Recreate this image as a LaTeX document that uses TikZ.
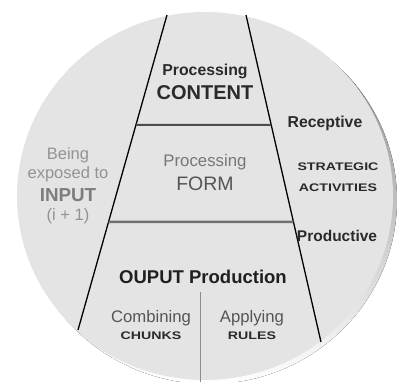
\documentclass[tikz,border=0pt]{standalone}
\usepackage{fontspec}
\usepackage{graphicx}
\setmainfont{Liberation Sans}
\usetikzlibrary{calc}
\definecolor{disc}{HTML}{E4E4E4}
\definecolor{shade}{HTML}{4A4A4A}
\definecolor{inkdark}{HTML}{2A2A2A}
\definecolor{inkmid}{HTML}{555555}
\definecolor{inklight}{HTML}{939393}
\definecolor{bandone}{HTML}{4D4D4D}
\definecolor{bandtwo}{HTML}{707070}
\definecolor{divider}{HTML}{8C8C8C}
\tikzset{
  lbl/.style={inner sep=0pt, align=center, text=inkdark, font=\bfseries},
  edgeline/.style={black, line width=1.3pt},
  bandline/.style={line width=2pt},
}
\newcommand{\wide}[1]{\scalebox{1.29}[1]{#1}}
\begin{document}
\begin{tikzpicture}[x=1pt,y=-1pt]
\useasboundingbox (0,0) rectangle (400,382);
\clip (0,0) rectangle (400,382);
% disc with shadow
\fill[shade] (209,200) ellipse [x radius=188pt, y radius=184pt];
\fill[disc] (205,196) ellipse [x radius=188pt, y radius=184pt];
% trapezoid edges
\coordinate (lt) at (167,15);
\coordinate (lb) at (78,330);
\coordinate (rt) at (246,15);
\coordinate (rb) at (321,342);
\draw[edgeline] (lt) -- (lb);
\draw[edgeline] (rt) -- (rb);
% horizontal bands
\coordinate (l1) at ($(lt)!0.349!(lb)$);
\coordinate (r1) at ($(rt)!0.336!(rb)$);
\coordinate (l2) at ($(lt)!0.657!(lb)$);
\coordinate (r2) at ($(rt)!0.633!(rb)$);
\draw[bandline, draw=bandone] (l1) -- (r1);
\draw[bandline, line width=2.5pt, draw=bandtwo] (l2) -- (r2);
% vertical divider
\coordinate (vt) at (200,292);
\coordinate (vb) at (200,382);
\draw[line width=1pt, draw=divider] (vt) -- (vb);
% texts
\node[lbl, font=\bfseries\fontsize{15.8}{15.8}\selectfont] (p1) at (205,71) {Processing};
\node[lbl, font=\bfseries\fontsize{20}{20}\selectfont] (content) at (205,93) {CONTENT};
\node[lbl, text=inkmid!80, font=\fontsize{16.8}{16.8}\selectfont] (p2) at (205,162) {Processing};
\node[lbl, text=inkmid, font=\fontsize{19.5}{19.5}\selectfont] (form) at (205,184) {FORM};
\node[lbl, text=inklight, font=\fontsize{16.5}{16.5}\selectfont] (being) at (68,155) {Being};
\node[lbl, text=inklight, font=\fontsize{16.5}{16.5}\selectfont] (exposed) at (68,174) {exposed to};
\node[lbl, text=inklight!85!black, font=\bfseries\fontsize{18.8}{18.8}\selectfont] (input) at (68,195) {INPUT};
\node[lbl, text=inklight, font=\fontsize{16.5}{16.5}\selectfont] (ione) at (68,216) {(i + 1)};
\node[lbl, font=\bfseries\fontsize{15.8}{15.8}\selectfont] (recep) at (325,123) {Receptive};
\node[lbl, font=\bfseries\fontsize{11}{11}\selectfont] (strat) at (338,167) {\wide{STRATEGIC}};
\node[lbl, font=\bfseries\fontsize{11}{11}\selectfont] (activ) at (338,188) {\wide{ACTIVITIES}};
\node[lbl, font=\bfseries\fontsize{15.5}{15.5}\selectfont] (prod) at (337,236) {Productive};
\node[lbl, text=black!88, font=\bfseries\fontsize{18.5}{18.5}\selectfont] (output) at (203,277) {OUPUT Production};
\node[lbl, text=inkmid, font=\fontsize{16.7}{16.7}\selectfont] (comb) at (151,318) {Combining};
\node[lbl, font=\bfseries\fontsize{11}{11}\selectfont] (chunks) at (151,336) {\wide{CHUNKS}};
\node[lbl, text=inkmid, font=\fontsize{16.7}{16.7}\selectfont] (apply) at (252,318) {Applying};
\node[lbl, font=\bfseries\fontsize{11}{11}\selectfont] (rules) at (252,336) {\wide{RULES}};
\end{tikzpicture}
\end{document}
